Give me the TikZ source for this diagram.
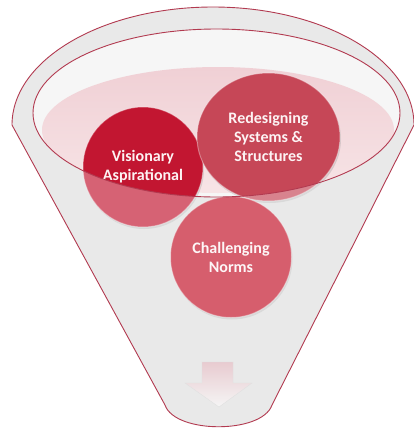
\documentclass[tikz,border=0pt]{standalone}
\usepackage{fontspec}
\setmainfont{Carlito}
\usetikzlibrary{shapes.geometric,shadows}

\definecolor{rimred}{HTML}{B23A50}
\definecolor{bodygrey}{HTML}{DFDFDF}
\definecolor{mouthgrey}{HTML}{F6F6F6}
\definecolor{liquidtop}{HTML}{F0D0D5}
\definecolor{liquidbot}{HTML}{F7E4E6}
\definecolor{visred}{HTML}{C21631}
\definecolor{redesred}{HTML}{C64757}
\definecolor{challred}{HTML}{C20F26}
\definecolor{labelwhite}{HTML}{FDF3F4}
\definecolor{arrowpink}{HTML}{E8CBD0}

\tikzset{
  ball/.style={circle, inner sep=0pt, draw=white, draw opacity=.35, line width=1pt,
    drop shadow={shadow xshift=1pt, shadow yshift=-2pt, opacity=.25},
    text=labelwhite, align=center,
    font=\fontsize{16}{19}\selectfont\bfseries},
  rimline/.style={draw=rimred, line width=.9pt},
}

% funnel outline: upper half of the outer rim, the two sloping walls, the rounded spout
\def\funnelpath{(12,125) arc[start angle=180, end angle=360, x radius=201, y radius=118]
  -- (272,405) .. controls (262,434) and (175,434) .. (165,405) -- cycle}
\def\mouthpath{(216.5,113) ellipse[x radius=183.5, y radius=84]}

\begin{document}
\begin{tikzpicture}[x=1pt, y=-1pt]
\useasboundingbox (0,0) rectangle (414,429);
\fill[white] (0,0) rectangle (414,429);

% funnel body and mouth
\fill[bodygrey] \funnelpath;
\fill[mouthgrey] \mouthpath;
\begin{scope}
  \clip \mouthpath;
  \shade[top color=liquidtop, bottom color=liquidbot] (218,130) ellipse[x radius=176, y radius=63];
\end{scope}

% the three spheres
\node[ball, minimum size=120, fill=visred] (vis) at (143,167) {Visionary\\Aspirational};
\node[ball, ellipse, minimum width=143, minimum height=128, fill=redesred] (redes) at (268.5,137)
  {Redesigning\\Systems \&\\Structures};
\node[ball, minimum size=121, fill=challred] (chall) at (231,257) {Challenging\\Norms};

% translucent front wall of the funnel
\fill[white, opacity=.33, even odd rule] \funnelpath \mouthpath;

% outflow arrow in the spout
\shade[top color=arrowpink, bottom color=white!96!black, draw=white!88!black, line width=.4pt]
  (202,362) -- (233,362) -- (233,383) -- (252,383) -- (219,407) -- (185,383) -- (202,383) -- cycle;

% outlines
\draw[rimline] \mouthpath;
\draw[rimline] \funnelpath;
\end{tikzpicture}
\end{document}
